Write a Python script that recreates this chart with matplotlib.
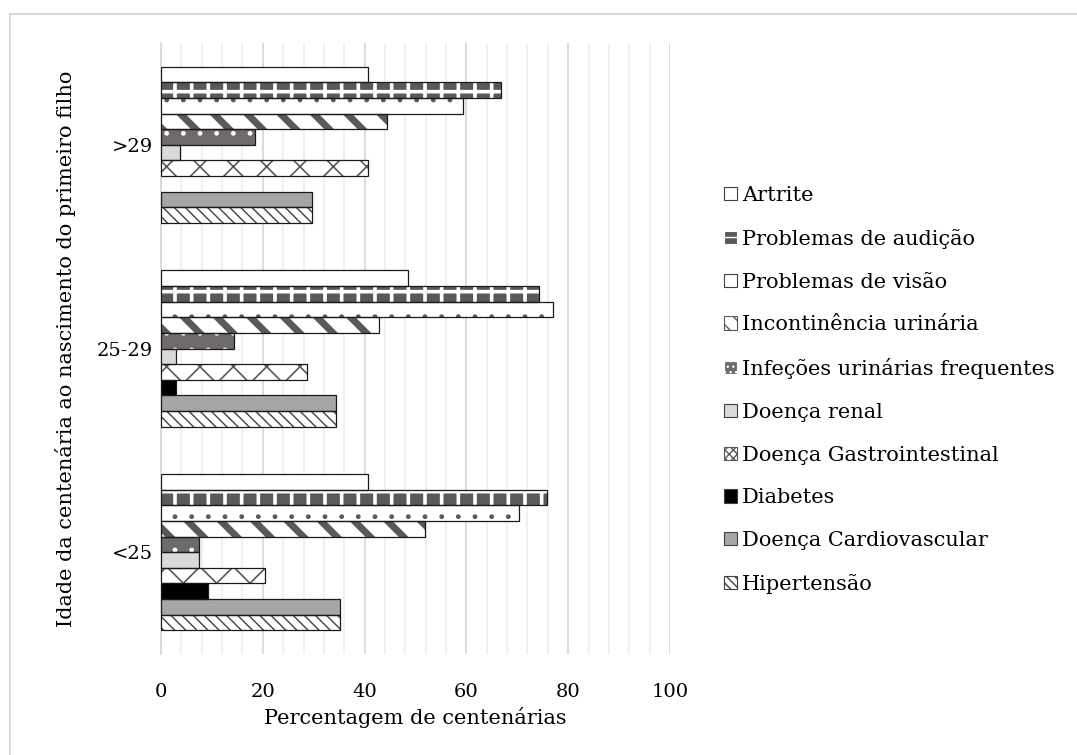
import matplotlib
matplotlib.use('Agg')
import matplotlib.pyplot as plt
from matplotlib.patches import Patch
from matplotlib.lines import Line2D
from matplotlib.ticker import MultipleLocator
import numpy as np

# age of the centenarian at birth of first child
categories = ['<25', '25-29', '>29']

# series in plotting order (bottom of each group first)
series = ['Hipertensão', 'Doença Cardiovascular', 'Diabetes', 'Doença Gastrointestinal',
          'Doença renal', 'Infeções urinárias frequentes', 'Incontinência urinária',
          'Problemas de visão', 'Problemas de audição', 'Artrite']

# percentages per series, values for <25, 25-29, >29
hipertensao = [35.2, 34.3, 29.6]
cardiovascular = [35.2, 34.3, 29.6]
diabetes = [9.3, 2.9, 0.0]
gastro = [20.4, 28.6, 40.7]
renal = [7.4, 2.9, 3.7]
infecoes = [7.4, 14.3, 18.5]
incontinencia = [51.9, 42.9, 44.4]
visao = [70.4, 77.1, 59.3]
audicao = [75.9, 74.3, 66.7]
artrite = [40.7, 48.6, 40.7]

values = [hipertensao, cardiovascular, diabetes, gastro, renal,
          infecoes, incontinencia, visao, audicao, artrite]

# (face, hatch, hatch colour, hatch linewidth, legend hatch)
styles = [
    ('white', '\\\\\\', '#404040', 1.0, '\\\\\\\\'),
    ('#a6a6a6', None, None, 1.0, None),
    ('black', None, None, 1.0, None),
    ('white', 'x', '#595959', 1.2, 'xxxx'),
    ('#d9d9d9', None, None, 1.0, None),
    ('#6e6a6a', '.', 'white', 1.0, '...'),
    ('white', '\\', '#595959', 5.0, '\\\\'),
    ('white', '.', '#595959', 1.0, None),
    ('#595959', '+', 'white', 2.6, '--'),
    ('white', None, None, 1.0, None),
]

plt.rcParams['font.family'] = ['DejaVu Serif']
FS = 15

fig = plt.figure(figsize=(10.77, 7.55), dpi=100)
ax = fig.add_axes([161 / 1077, 1 - 654 / 755, (670 - 161) / 1077, (654 - 43) / 755])

# outer chart border (only top and left edges fall inside the image)
bx, by = 9.5 / 1077, 1 - 14 / 755
fig.lines.append(Line2D([bx, 1.0], [by, by], transform=fig.transFigure,
                        color='#d9d9d9', linewidth=1.5))
fig.lines.append(Line2D([bx, bx], [0.0, by], transform=fig.transFigure,
                        color='#d9d9d9', linewidth=1.5))

y = np.arange(len(categories))
n = len(series)
group_w = 0.766
bh = group_w / n
handles = []
for i, (name, vals, st) in enumerate(zip(series, values, styles)):
    face, hatch, hcol, hlw, lhatch = st
    pos = y - group_w / 2 + bh * (i + 0.5)
    if hatch:
        with plt.rc_context({'hatch.linewidth': hlw}):
            hb = ax.barh(pos, vals, height=bh, color=face, hatch=hatch,
                         edgecolor=hcol, linewidth=0, zorder=2)
            for p in hb:
                if hasattr(p, 'set_hatch_linewidth'):
                    p.set_hatch_linewidth(hlw)
    else:
        ax.barh(pos, vals, height=bh, color=face, linewidth=0, zorder=2)
    ax.barh(pos, [v if v > 0 else np.nan for v in vals], height=bh,
            facecolor='none', edgecolor='#1a1a1a', linewidth=0.9, zorder=3)
    lw_leg = 2.5 if name == 'Incontinência urinária' else 1.0
    with plt.rc_context({'hatch.linewidth': lw_leg}):
        h = Patch(facecolor=face, hatch=lhatch, edgecolor=hcol if lhatch else '#404040',
                  linewidth=0.8, label=name)
        if hasattr(h, 'set_hatch_linewidth'):
            h.set_hatch_linewidth(lw_leg)
    handles.append(h)

ax.set_xlim(0, 100)
ax.set_ylim(-0.5, 2.5)
ax.set_yticks(y)
ax.set_yticklabels(categories)
ax.xaxis.set_major_locator(MultipleLocator(20))
ax.xaxis.set_minor_locator(MultipleLocator(4))
ax.grid(True, which='major', axis='x', color='#d9d9d9', linewidth=1.3, zorder=0)
ax.grid(True, which='minor', axis='x', color='#efefef', linewidth=1.3, zorder=0)
ax.set_axisbelow(True)
ax.tick_params(axis='both', which='both', length=0, labelsize=14, colors='black')
ax.tick_params(axis='x', pad=21)
ax.tick_params(axis='y', pad=6)
for s in ['top', 'right', 'bottom']:
    ax.spines[s].set_visible(False)
ax.spines['left'].set_color('#d9d9d9')
ax.spines['left'].set_linewidth(1.3)

ax.set_xlabel('Percentagem de centenárias', fontsize=FS, labelpad=4)
ax.set_ylabel('Idade da centenária ao nascimento do primeiro filho', fontsize=FS, labelpad=15)

fig.legend(handles=handles[::-1], loc='center left', bbox_to_anchor=(718 / 1077, 1 - 390 / 755),
           frameon=False, fontsize=FS, handlelength=0.6, handleheight=0.6,
           handletextpad=0.25, labelspacing=1.14, borderaxespad=0, borderpad=0.3)

fig.savefig('out.png', dpi=100, facecolor='white')
